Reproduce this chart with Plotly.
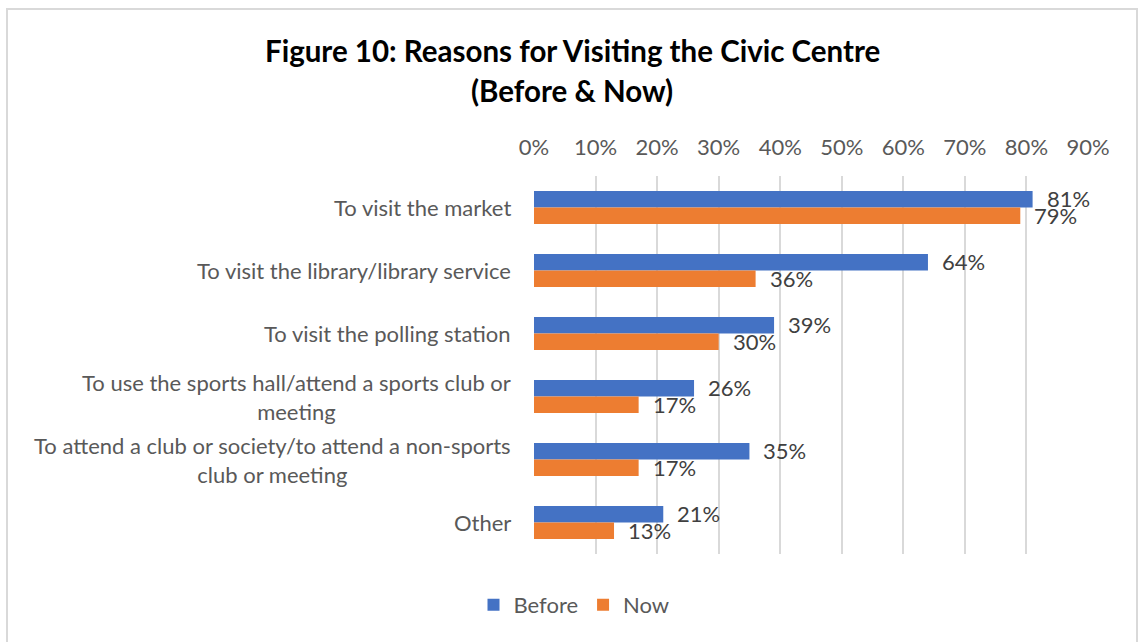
import plotly.graph_objects as go

# Survey data: share of respondents giving each reason
categories = [
    "To visit the market",
    "To visit the library/library service",
    "To visit the polling station",
    "To use the sports hall/attend a sports club or<br>meeting",
    "To attend a club or society/to attend a non-sports<br>club or meeting",
    "Other",
]
before = [81, 64, 39, 26, 35, 21]
now = [79, 36, 30, 17, 17, 13]
x_ticks = [0, 10, 20, 30, 40, 50, 60, 70, 80, 90]
x_tick_labels = [f"{t}%" for t in x_ticks]

BLUE = "#4472C4"
ORANGE = "#ED7D31"
FONT = "Lato"

W, H = 1138, 642
ML, MR, MT, MB = 534, 50, 176, 88
PW, PH = W - ML - MR, H - MT - MB


def px_x(px):
    return (px - ML) / PW


def px_y(py):
    return (H - MB - py) / PH


fig = go.Figure()
fig.add_trace(go.Bar(name="Before", y=categories, x=before, orientation="h",
                     marker=dict(color=BLUE, line=dict(width=0))))
fig.add_trace(go.Bar(name="Now", y=categories, x=now, orientation="h",
                     marker=dict(color=ORANGE, line=dict(width=0))))

annotations = []
# value labels just past the bar ends
for vals, shift in ((before, 9), (now, -8)):
    for cat, v in zip(categories, vals):
        annotations.append(dict(
            x=v, y=cat, xref="x", yref="y", text=f"{v}%", showarrow=False,
            xanchor="left", yanchor="middle", xshift=12, yshift=shift,
            font=dict(family=FONT, size=22, color="#404040")))

# category labels, centred lines right-aligned against the axis
for cat in categories:
    annotations.append(dict(
        x=0, y=cat, xref="paper", yref="y", text=cat, showarrow=False,
        xanchor="right", yanchor="middle", align="center", xshift=-21,
        font=dict(family=FONT, size=22, color="#595959")))

# two-line title
annotations.append(dict(
    x=px_x(572), y=px_y(50), xref="paper", yref="paper", showarrow=False,
    text="<b>Figure 10: Reasons for Visiting the Civic Centre</b>",
    xanchor="center", yanchor="middle",
    font=dict(family=FONT, size=29.5, color="#000000")))
annotations.append(dict(
    x=px_x(572), y=px_y(90), xref="paper", yref="paper", showarrow=False,
    text="<b>(Before &amp; Now)</b>",
    xanchor="center", yanchor="middle",
    font=dict(family=FONT, size=29.5, color="#000000")))

fig.update_layout(
    width=W, height=H,
    margin=dict(l=ML, r=MR, t=MT, b=MB, pad=0),
    paper_bgcolor="white", plot_bgcolor="white",
    barmode="group", bargap=0.476, bargroupgap=0,
    showlegend=True,
    legend=dict(orientation="h", x=px_x(574), y=px_y(605),
                xanchor="center", yanchor="middle",
                font=dict(family=FONT, size=22, color="#595959"),
                itemwidth=30, traceorder="normal"),
    annotations=annotations,
    shapes=[dict(type="rect", xref="paper", yref="paper",
                 x0=px_x(7), x1=px_x(1137), y0=px_y(660), y1=px_y(9),
                 line=dict(color="#D9D9D9", width=2), layer="below")],
    xaxis=dict(side="top", range=[0, 90], tickvals=x_ticks, ticktext=x_tick_labels,
               showgrid=True, gridcolor="#D9D9D9", gridwidth=1.5,
               zeroline=False, showline=False, ticks="",
               ticklabelstandoff=16,
               tickfont=dict(family=FONT, size=22, color="#595959"),
               fixedrange=True),
    yaxis=dict(categoryorder="array", categoryarray=categories,
               autorange="reversed", showticklabels=False, showgrid=False,
               zeroline=False, showline=False, ticks="", fixedrange=True),
)

fig.write_html("out.html", config={"displayModeBar": False})
